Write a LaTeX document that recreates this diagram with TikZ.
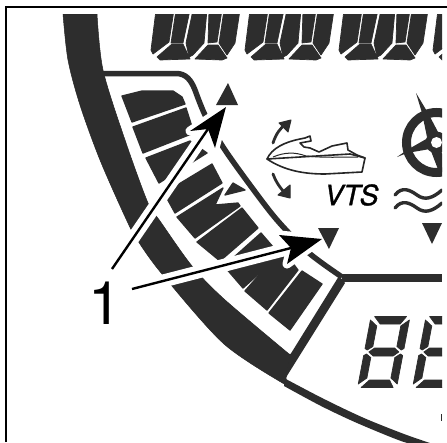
\documentclass[tikz,border=0pt]{standalone}
\usepackage{fontspec}
\setmainfont{TeX Gyre Heros}
\newfontfamily\vtsfont[FakeBold=1.2]{TeX Gyre Heros}
\definecolor{lcd}{HTML}{2D2D2D}
\tikzset{
  seg/.style={fill=lcd,draw=lcd,line width=1.3pt,line join=round},
  topseg/.style={fill=lcd,draw=lcd,line width=.7pt,line join=round},
  rim/.style={draw=lcd,line width=#1},
  outline/.style={draw=black!85,line width=1.6pt,line join=round,line cap=round},
  halo/.style={draw=white,line width=13pt},
  halohead/.style={draw=white,fill=white,line width=9pt,line join=round},
  leader/.style={draw=black,line width=2.4pt},
  headfill/.style={fill=black},
  smallarrow/.style={draw=lcd,line width=2.8pt,line cap=round},
  smallhead/.style={fill=lcd,draw=lcd,line width=1pt,line join=round},
}
\newcommand{\digitseg}{%
  \fill[topseg] (4,-71.5)--(36,-71.5)--(31,-64)--(11,-64)--cycle;
  \fill[topseg] (.5,-68)--(8,-62)--(8,-41.5)--(3,-38)--(.5,-39.5)--cycle;
  \fill[topseg] (39.5,-68)--(39.5,-39.5)--(37,-38)--(32,-41.5)--(32,-62)--cycle;
  \fill[topseg] (5,-36)--(10,-40)--(30,-40)--(35,-36)--(30,-32)--(10,-32)--cycle;
  \fill[topseg] (.5,-32.5)--(3,-34)--(8,-30.5)--(8,-10)--(.5,-4)--cycle;
  \fill[topseg] (39.5,-32.5)--(37,-34)--(32,-30.5)--(32,-10)--(39.5,-4)--cycle;
  \fill[topseg] (4,-.5)--(36,-.5)--(31,-8)--(11,-8)--cycle;
}
\begin{document}
\begin{tikzpicture}[x=1pt,y=-1pt]
\useasboundingbox (0,0) rectangle (447,442);
\fill[white] (0,0) rectangle (447,442);
% frame
\draw[black,line width=2pt] (5.5,442) -- (5.5,7) -- (447,7);
\begin{scope}
\clip (0,14) rectangle (442,442);
% outer band
\fill[lcd,draw=black!85,line width=.5pt] plot[smooth] coordinates {(63,14) (68,60) (80,105) (100,160) (127,221) (138,241) (162,274) (224,344) (286,385)}
  -- (286,378) -- (291,354)
  -- plot[smooth] coordinates {(289,354) (224,299) (192,266) (160,221) (148,203) (125,140) (103,70) (97,14)} -- cycle;
% strip under the bars
\fill[lcd] (285,379) -- (345,283) -- (339,276) -- (290,355) -- cycle;
% thin lower arc
\fill[lcd] plot[smooth] coordinates {(284,378) (324,399) (364,418) (404,434) (430,443)}
  -- plot[smooth] coordinates {(424,447) (401,441) (357,423) (321,406) (284,386)} -- cycle;
% panel border
\draw[rim=5.5pt,line join=round] (103,73.5) -- (176,73.5) .. controls (186,73.5) and (191,80) .. (195,90)
  -- plot[smooth] coordinates {(195,90) (205,115) (223,147) (250,185) (277,220) (309,253) (342,277)};
\draw[rim=8pt] (342,278) -- (442,278);
% bar segments
\fill[seg] (122,96)--(142,91)--(173,91)--(182,97)--(185,104)--(132,122)--cycle;
\fill[seg] (133,127)--(186,108)--(194,133)--(143,153)--cycle;
\fill[seg] (146,158)--(190,141)--(207,153)--(159,183)--cycle;
\fill[seg] (164,193)--(212,164)--(222,183)--(175,213)--cycle;
\fill[seg] (177,217)--(223,188)--(215,205)--(238,203)--(240,206)--(195,238)--cycle;
\fill[seg] (225,195)--(233,183)--(245,190)--cycle;
\fill[seg] (197,242)--(242,208)--(258,228)--(220,261)--cycle;
\fill[seg] (224,266)--(261,233)--(280,255)--(243,288)--cycle;
\fill[seg] (245,291)--(282,249)--(298,270)--(267,310)--cycle;
\fill[seg] (269,313)--(302,271)--(322,284)--(290,330)--cycle;
% top digits
\foreach \dx in {0,94,188,282}{
\begin{scope}[shift={(\dx,0)}]
  \fill[topseg] (156,10)--(174,10)--(169,42)--(153,54)--(151,50)--cycle;
  \fill[topseg] (176,10)--(190,10)--(183,43)--(171,43)--cycle;
  \fill[topseg] (193,10)--(207,10)--(204,43)--(193,55)--(189,57)--(186,43)--cycle;
  \fill[topseg] (209,10)--(222,10)--(217,42)--(208,43)--cycle;
  \fill[topseg] (224,10)--(240,10)--(235,43)--(227,55)--(219,43)--cycle;
  \fill[topseg] (157,57)--(172,44)--(183,44)--(190,59)--(160,60)--cycle;
  \fill[topseg] (195,59)--(208,45)--(218,45)--(227,58)--(222,60)--cycle;
\end{scope}}
% lower digits
\foreach \dx in {357,412}{
\begin{scope}[shift={(\dx,388)},xslant=.19]
  \digitseg
\end{scope}}
\fill[lcd] (441,414) rectangle (442,421);
% steering wheel
\draw[rim=9pt] (436.5,142.5) circle (30pt);
\fill[lcd] (436.5,142.5) circle (11pt);
\fill[lcd] (416,93)--(428,113)--(438,132)--(427,137)--(422,113)--cycle;
\fill[lcd] (397,157)--(407,150)--(428,138)--(430,149)--(407,153)--cycle;
\fill[lcd] (431,151)--(441,150)--(447,172)--(439,172)--cycle;
\fill[white] (436.5,142.5) circle (5.5pt);
% waves
\draw[rim=3.4pt,line cap=round] (395,195) .. controls (402,186) and (410,190) .. (417,195) .. controls (425,201) and (433,198) .. (442,190);
\draw[rim=3.4pt,line cap=round] (395,208) .. controls (402,199) and (410,203) .. (417,208) .. controls (425,214) and (433,211) .. (442,203);
% jet ski
\draw[outline] (267,159) .. controls (285,171) and (305,174) .. (325,174) -- (362,172) -- (365,158) -- (350,154) -- (267,159) -- cycle;
\draw[outline] (267,159) .. controls (272,148) and (285,142) .. (300,139) -- (305,138) -- (310,136) -- (311,141) -- (300,143) -- (304,147) -- (310,148) -- (319,152) -- (332,146) -- (347,143) -- (348,150) -- (357,155) -- (365,158);
\draw[draw=black!85,line width=1pt] (273,157) .. controls (285,152) and (295,152) .. (306,156);
\draw[draw=black!85,line width=1pt] (306,156) .. controls (325,158) and (340,157) .. (358,157);
\draw[smallarrow] (273,143) .. controls (276,134) and (280,128) .. (287,123);
\fill[smallhead] (291,120)--(279,123)--(288,132)--cycle;
\draw[smallarrow] (273,174) .. controls (276,182) and (280,188) .. (286,194);
\fill[smallhead] (290,198)--(290,185)--(278,195)--cycle;
% VTS
\node[font=\fontsize{28}{28}\vtsfont\itshape\selectfont,text=black,inner sep=0pt] (vts) at (351.5,195) {VTS};
% callout
\coordinate (tipa) at (226,107);
\coordinate (notcha) at (208,129);
\coordinate (startA) at (112,269);
\coordinate (tipb) at (322,239);
\coordinate (notchb) at (291,248);
\coordinate (startB) at (132,289);
\draw[halo] (startA) -- (notcha);
\draw[halo] (startB) -- (notchb);
\filldraw[halohead] (tipa) -- (190,131) -- (notcha) -- (215,148) -- cycle;
\filldraw[halohead] (tipb) -- (279,235) -- (notchb) -- (287,264) -- cycle;
\draw[leader] (startA) -- (notcha);
\draw[leader] (startB) -- (notchb);
\fill[headfill] (tipa) -- (190,131) -- (notcha) -- (215,148) -- cycle;
\fill[headfill] (tipb) -- (279,235) -- (notchb) -- (287,264) -- cycle;
% indicator triangles
\fill[lcd] (228,83)--(238,105)--(216,105)--cycle;
\fill[lcd] (318,228)--(339,228)--(329,249)--cycle;
\fill[lcd] (422,223)--(442,223)--(432,244)--cycle;
\end{scope}
\node[font=\fontsize{60}{60}\selectfont,text=black,inner sep=0pt,anchor=base] (one) at (105,324) {1};
\end{tikzpicture}
\end{document}
